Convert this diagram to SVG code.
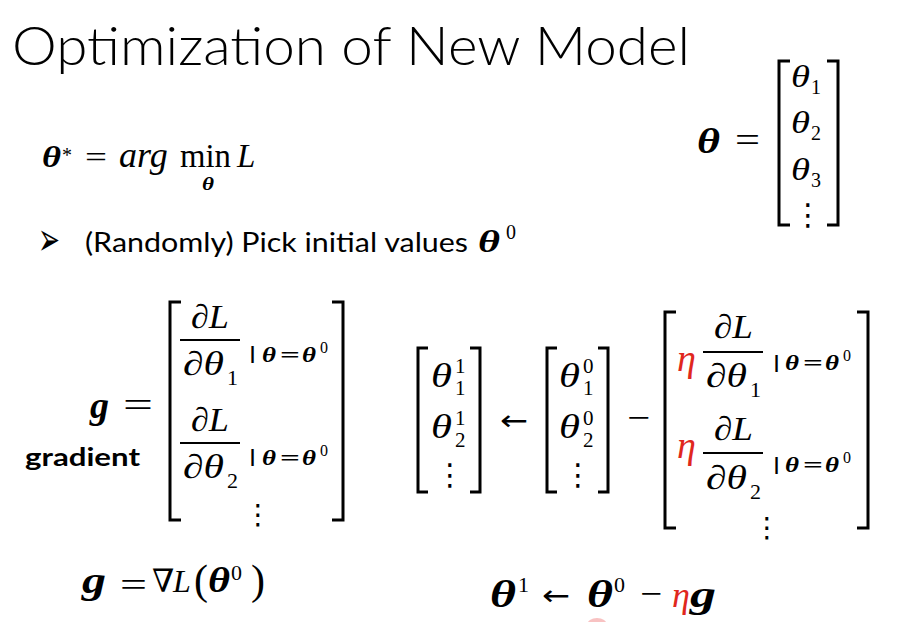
<svg xmlns="http://www.w3.org/2000/svg" width="904" height="622" viewBox="0 0 904 622">
<style>
  .m { font-family: "Liberation Serif", "DejaVu Serif", serif; font-style: italic; fill: #000; }
  .b { font-weight: bold; }
  .u { font-style: normal; }
  .red { fill: #e0271d; }
  .sym { font-family: "DejaVu Sans", "Liberation Sans", sans-serif; font-style: normal; fill: #000; }
  .vb { font-family: "Liberation Sans", "DejaVu Sans", sans-serif; font-weight: bold; fill: #000; }
  .txt { font-family: "Lato", "Open Sans", "Liberation Sans", sans-serif; fill: #000; }
  .br { fill: none; stroke: #000; stroke-width: 3; }
  .bar { stroke: #000; stroke-width: 2; }
</style>
<rect width="904" height="622" fill="#fff"/>

<g id="title">
  <text class="txt" x="12" y="65" font-size="54" font-weight="300" textLength="678" lengthAdjust="spacingAndGlyphs">Optimization of New Model</text>
</g>

<g id="objective">
  <text class="m b" x="42" y="167" font-size="30" textLength="19" lengthAdjust="spacingAndGlyphs">θ</text>
  <text class="m u" x="62" y="162" font-size="20">*</text>
  <text class="m u" x="85" y="167" font-size="30" textLength="22" lengthAdjust="spacingAndGlyphs">=</text>
  <text class="m" x="119" y="167" font-size="36">arg</text>
  <text class="m u" x="180" y="167" font-size="34" textLength="51" lengthAdjust="spacingAndGlyphs">min</text>
  <text class="m" x="237" y="167" font-size="33">L</text>
  <text class="m b" x="202" y="190" font-size="19" textLength="12" lengthAdjust="spacingAndGlyphs">θ</text>
</g>

<g id="bullet">
  <text class="sym" x="38" y="255" font-size="46" textLength="22" lengthAdjust="spacingAndGlyphs">➢</text>
  <text class="txt" x="85" y="252" font-size="27" textLength="383" lengthAdjust="spacingAndGlyphs">(Randomly) Pick initial values</text>
  <text class="m b" x="478" y="252" font-size="32" textLength="22" lengthAdjust="spacingAndGlyphs">θ</text>
  <text class="m u" x="506" y="239" font-size="20">0</text>
</g>

<g id="theta-vector">
  <text class="m b" x="697" y="153" font-size="36" textLength="23" lengthAdjust="spacingAndGlyphs">θ</text>
  <text class="m u" x="735" y="152" font-size="36" textLength="25" lengthAdjust="spacingAndGlyphs">=</text>
  <path class="br" d="M790 61 H779 V225 H790"/>
  <path class="br" d="M827 61 H838 V225 H827"/>
  <text class="m" x="791" y="87" font-size="32" textLength="19" lengthAdjust="spacingAndGlyphs">θ</text>
  <text class="m u" x="811" y="94" font-size="20">1</text>
  <text class="m" x="791" y="133" font-size="32" textLength="19" lengthAdjust="spacingAndGlyphs">θ</text>
  <text class="m u" x="811" y="140" font-size="20">2</text>
  <text class="m" x="791" y="180" font-size="32" textLength="19" lengthAdjust="spacingAndGlyphs">θ</text>
  <text class="m u" x="811" y="187" font-size="20">3</text>
  <text class="sym" x="808" y="225" font-size="30" text-anchor="middle">⋮</text>
</g>

<g id="gradient">
  <text class="m b" x="90" y="418" font-size="38">g</text>
  <text class="m u" x="123" y="417" font-size="36" textLength="30" lengthAdjust="spacingAndGlyphs">=</text>
  <text class="txt" x="25" y="466" font-size="24" font-weight="bold" textLength="115" lengthAdjust="spacingAndGlyphs">gradient</text>
  <path class="br" d="M181 302 H170 V520 H181"/>
  <path class="br" d="M332 302 H343 V520 H332"/>
  <text class="m" x="191" y="328" font-size="34" textLength="38" lengthAdjust="spacingAndGlyphs">∂L</text>
  <line class="bar" x1="180" y1="340" x2="240" y2="340"/>
  <text class="m" x="183" y="375" font-size="34" textLength="41" lengthAdjust="spacingAndGlyphs">∂θ</text>
  <text class="m u" x="227" y="385" font-size="22">1</text>
  <text class="vb" x="250" y="359" font-size="18">|</text>
  <text class="m b" x="262" y="362" font-size="22" textLength="14" lengthAdjust="spacingAndGlyphs">θ</text>
  <text class="m u b" x="280" y="362" font-size="22" textLength="20" lengthAdjust="spacingAndGlyphs">=</text>
  <text class="m b" x="302" y="362" font-size="22" textLength="14" lengthAdjust="spacingAndGlyphs">θ</text>
  <text class="m u" x="320" y="353" font-size="16">0</text>
  <text class="m" x="191" y="431" font-size="34" textLength="38" lengthAdjust="spacingAndGlyphs">∂L</text>
  <line class="bar" x1="180" y1="443" x2="240" y2="443"/>
  <text class="m" x="183" y="478" font-size="34" textLength="41" lengthAdjust="spacingAndGlyphs">∂θ</text>
  <text class="m u" x="227" y="488" font-size="22">2</text>
  <text class="vb" x="250" y="462" font-size="18">|</text>
  <text class="m b" x="262" y="465" font-size="22" textLength="14" lengthAdjust="spacingAndGlyphs">θ</text>
  <text class="m u b" x="280" y="465" font-size="22" textLength="20" lengthAdjust="spacingAndGlyphs">=</text>
  <text class="m b" x="302" y="465" font-size="22" textLength="14" lengthAdjust="spacingAndGlyphs">θ</text>
  <text class="m u" x="320" y="456" font-size="16">0</text>
  <text class="sym" x="258" y="524" font-size="28" text-anchor="middle">⋮</text>
</g>

<g id="update">
  <path class="br" d="M428 348 H418 V492 H428"/>
  <path class="br" d="M470 348 H480 V492 H470"/>
  <text class="m" x="431" y="387" font-size="34" textLength="21" lengthAdjust="spacingAndGlyphs">θ</text>
  <text class="m u" x="455" y="373" font-size="21">1</text>
  <text class="m u" x="455" y="395" font-size="21">1</text>
  <text class="m" x="431" y="438" font-size="34" textLength="21" lengthAdjust="spacingAndGlyphs">θ</text>
  <text class="m u" x="455" y="425" font-size="21">1</text>
  <text class="m u" x="455" y="447" font-size="21">2</text>
  <text class="sym" x="450" y="485" font-size="30" text-anchor="middle">⋮</text>

  <text class="sym" x="500" y="430" font-size="28" textLength="28" lengthAdjust="spacingAndGlyphs">←</text>

  <path class="br" d="M557 348 H547 V492 H557"/>
  <path class="br" d="M598 348 H608 V492 H598"/>
  <text class="m" x="559" y="387" font-size="34" textLength="21" lengthAdjust="spacingAndGlyphs">θ</text>
  <text class="m u" x="583" y="373" font-size="21">0</text>
  <text class="m u" x="583" y="395" font-size="21">1</text>
  <text class="m" x="559" y="438" font-size="34" textLength="21" lengthAdjust="spacingAndGlyphs">θ</text>
  <text class="m u" x="583" y="425" font-size="21">0</text>
  <text class="m u" x="583" y="447" font-size="21">2</text>
  <text class="sym" x="578" y="485" font-size="30" text-anchor="middle">⋮</text>

  <text class="m u" x="627" y="429" font-size="34" textLength="23" lengthAdjust="spacingAndGlyphs">−</text>

  <path class="br" d="M676 312 H665 V528 H676"/>
  <path class="br" d="M857 312 H868 V528 H857"/>
  <text class="m red" x="677" y="371" font-size="38">η</text>
  <text class="m" x="714" y="338" font-size="34" textLength="39" lengthAdjust="spacingAndGlyphs">∂L</text>
  <line class="bar" x1="703" y1="352" x2="763" y2="352"/>
  <text class="m" x="706" y="387" font-size="34" textLength="41" lengthAdjust="spacingAndGlyphs">∂θ</text>
  <text class="m u" x="750" y="397" font-size="22">1</text>
  <text class="vb" x="774" y="368" font-size="18">|</text>
  <text class="m b" x="785" y="370" font-size="22" textLength="14" lengthAdjust="spacingAndGlyphs">θ</text>
  <text class="m u b" x="803" y="370" font-size="22" textLength="20" lengthAdjust="spacingAndGlyphs">=</text>
  <text class="m b" x="825" y="370" font-size="22" textLength="14" lengthAdjust="spacingAndGlyphs">θ</text>
  <text class="m u" x="843" y="361" font-size="16">0</text>

  <text class="m red" x="677" y="458" font-size="38">η</text>
  <text class="m" x="714" y="440" font-size="34" textLength="39" lengthAdjust="spacingAndGlyphs">∂L</text>
  <line class="bar" x1="703" y1="453" x2="763" y2="453"/>
  <text class="m" x="706" y="489" font-size="34" textLength="41" lengthAdjust="spacingAndGlyphs">∂θ</text>
  <text class="m u" x="750" y="499" font-size="22">2</text>
  <text class="vb" x="774" y="470" font-size="18">|</text>
  <text class="m b" x="785" y="472" font-size="22" textLength="14" lengthAdjust="spacingAndGlyphs">θ</text>
  <text class="m u b" x="803" y="472" font-size="22" textLength="20" lengthAdjust="spacingAndGlyphs">=</text>
  <text class="m b" x="825" y="472" font-size="22" textLength="14" lengthAdjust="spacingAndGlyphs">θ</text>
  <text class="m u" x="843" y="463" font-size="16">0</text>
  <text class="sym" x="767" y="537" font-size="28" text-anchor="middle">⋮</text>
</g>

<g id="gradient-short">
  <text class="m b" x="82" y="593" font-size="38" textLength="24" lengthAdjust="spacingAndGlyphs">g</text>
  <text class="m u" x="120" y="596" font-size="34" textLength="27" lengthAdjust="spacingAndGlyphs">=</text>
  <text class="m u" x="152" y="592" font-size="32">∇</text>
  <text class="m" x="173" y="592" font-size="32">L</text>
  <text class="m u" x="194" y="594" font-size="42">(</text>
  <text class="m b" x="208" y="592" font-size="36" textLength="22" lengthAdjust="spacingAndGlyphs">θ</text>
  <text class="m u" x="231" y="580" font-size="22">0</text>
  <text class="m u" x="251" y="594" font-size="42">)</text>
</g>

<g id="update-short">
  <text class="m b" x="490" y="607" font-size="38" textLength="26" lengthAdjust="spacingAndGlyphs">θ</text>
  <text class="m u" x="518" y="592" font-size="22">1</text>
  <text class="sym" x="542" y="605" font-size="28" textLength="28" lengthAdjust="spacingAndGlyphs">←</text>
  <text class="m b" x="587" y="607" font-size="38" textLength="26" lengthAdjust="spacingAndGlyphs">θ</text>
  <text class="m u" x="614" y="592" font-size="22">0</text>
  <text class="m u" x="640" y="605" font-size="34" textLength="22" lengthAdjust="spacingAndGlyphs">−</text>
  <text class="m red" x="672" y="607" font-size="36">η</text>
  <text class="m b" x="690" y="607" font-size="38" textLength="26" lengthAdjust="spacingAndGlyphs">g</text>
</g>

<ellipse cx="597" cy="625" rx="10" ry="7" fill="#f6b3b3" opacity="0.8"/>
</svg>
